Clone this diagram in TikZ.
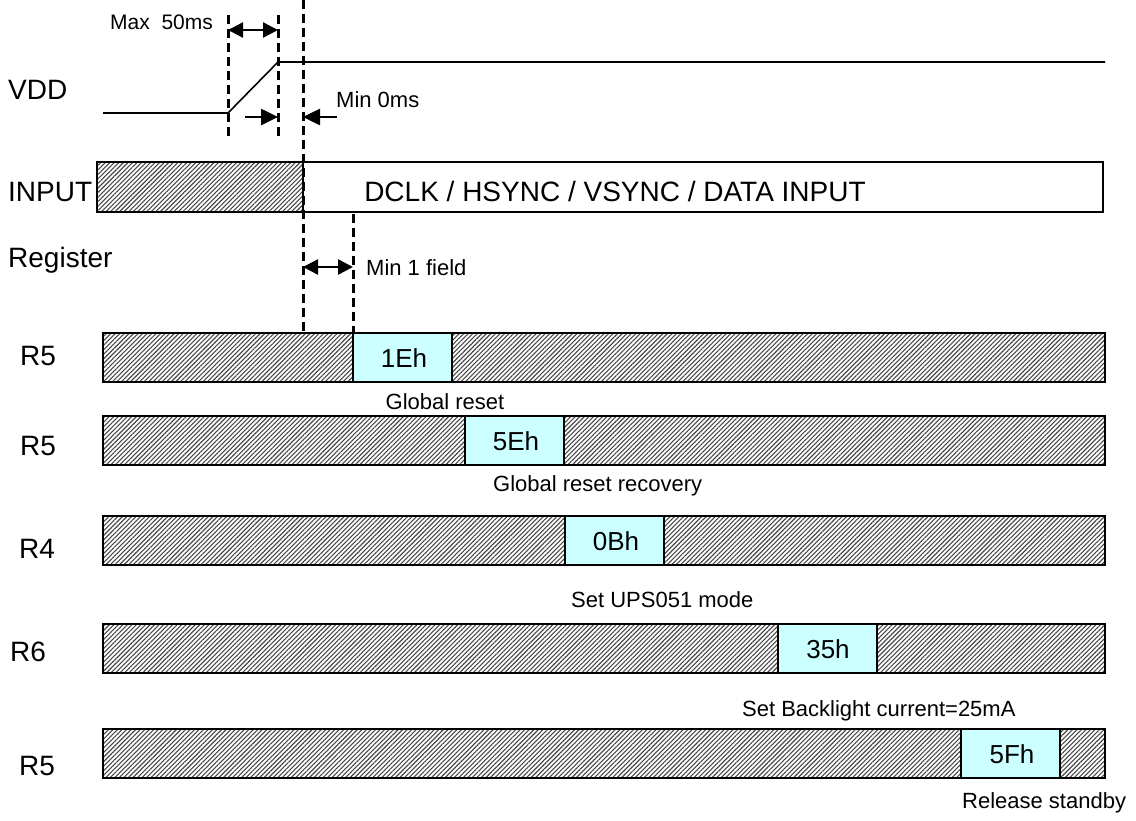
\documentclass[tikz,border=0pt]{standalone}
\usepackage{fontspec}
\setmainfont{Liberation Sans}
\usetikzlibrary{patterns.meta,arrows.meta}
\definecolor{regcyan}{RGB}{204,255,255}
\begin{document}
\begin{tikzpicture}[x=1pt,y=-1pt,
  hatch/.style={pattern={Lines[angle=45,distance=3.2pt,line width=1.1pt]},pattern color=black!72},
  barbox/.style={draw=black,line width=1.6pt},
  regbox/.style={draw=black,line width=1.6pt,fill=regcyan},
  guide/.style={line width=3pt,dash pattern=on 9pt off 5pt},
  dim/.style={line width=2.4pt,{Triangle[length=15pt,width=15pt]}-{Triangle[length=15pt,width=15pt]}},
  pin/.style={line width=2.6pt,-{Triangle[length=17pt,width=16pt]}},
  big/.style={font=\fontsize{28}{32}\selectfont,inner sep=0pt},
  mid/.style={font=\fontsize{26}{30}\selectfont,inner sep=0pt},
  small/.style={font=\fontsize{22}{26}\selectfont,inner sep=0pt},
  wave/.style={line width=1.6pt}]
\useasboundingbox (0,0) rectangle (1136,820);

% guide coordinates
\coordinate (g1t) at (228,15);  \coordinate (g1b) at (228,140);
\coordinate (g2t) at (278,15);  \coordinate (g2b) at (278,140);
\coordinate (g3t) at (303,0);   \coordinate (g3b) at (303,333);
\coordinate (g4t) at (353,214); \coordinate (g4b) at (353,333);

% VDD waveform
\coordinate (v0) at (103,113); \coordinate (v1) at (228,113);
\coordinate (v2) at (278,62);  \coordinate (v3) at (1105,62);
\draw[wave] (v0) -- (v1) -- (v2) -- (v3);

% INPUT bar
\fill[hatch] (97,162) rectangle (303,212);
\draw[barbox] (97,162) rectangle (1103,212);
\draw[line width=1.6pt] (303,162) -- (303,212);

% Register bars
\foreach \yt/\xa in {333/353, 416/465, 516/565, 624/778, 729/961}{
  \fill[hatch] (103,\yt) rectangle (1105,\yt+49);
  \draw[regbox] (\xa,\yt) rectangle (\xa+99,\yt+49);
  \draw[barbox] (103,\yt) rectangle (1105,\yt+49);
}

% dashed guides
\draw[guide] (g1t) -- (g1b);
\draw[guide] (g2t) -- (g2b);
\draw[guide] (g3t) -- (g3b);
\draw[guide] (g4t) -- (g4b);

% dimension arrows
\coordinate (d1a) at (228,30); \coordinate (d1b) at (278,30);
\draw[dim] (d1a) -- (d1b);
\coordinate (d2a) at (303,267); \coordinate (d2b) at (353,267);
\draw[dim] (d2a) -- (d2b);
\coordinate (p1s) at (245,117); \coordinate (p1e) at (278,117);
\draw[pin] (p1s) -- (p1e);
\coordinate (p2s) at (337,117); \coordinate (p2e) at (303,117);
\draw[pin] (p2s) -- (p2e);

% labels
\node[small,anchor=west,font=\fontsize{21}{25}\selectfont] (tmax) at (110,22) {Max\ \ 50ms};
\node[small,anchor=west] (tmin0) at (336,100) {Min 0ms};
\node[small,anchor=west] (tmin1) at (366,268) {Min 1 field};
\node[big,anchor=west] (lvdd) at (8,90) {VDD};
\node[big,anchor=west] (linput) at (8,192) {INPUT};
\node[big,anchor=west] (lreg) at (8,260) {Register};
\node[big] (tin) at (615,191) {DCLK / HSYNC / VSYNC / DATA INPUT};

\node[big,anchor=west] (r1) at (20,356) {R5};
\node[big,anchor=west] (r2) at (20,446) {R5};
\node[big,anchor=west] (r3) at (19,549) {R4};
\node[big,anchor=west] (r4) at (10,652) {R6};
\node[big,anchor=west] (r5) at (19,766) {R5};

\node[mid] (h1) at (404,358) {1Eh};
\node[mid] (h2) at (516,441) {5Eh};
\node[mid] (h3) at (616,541) {0Bh};
\node[mid] (h4) at (828,649) {35h};
\node[mid] (h5) at (1012,754) {5Fh};

\node[small] (c1) at (445,402) {Global reset};
\node[small,anchor=west] (c2) at (493,486) {Global reset recovery};
\node[small,anchor=west] (c3) at (571,600) {Set UPS051 mode};
\node[small,anchor=west] (c4) at (742,711) {Set Backlight current=25mA};
\node[small,anchor=west] (c5) at (962,803) {Release standby};
\end{tikzpicture}
\end{document}
